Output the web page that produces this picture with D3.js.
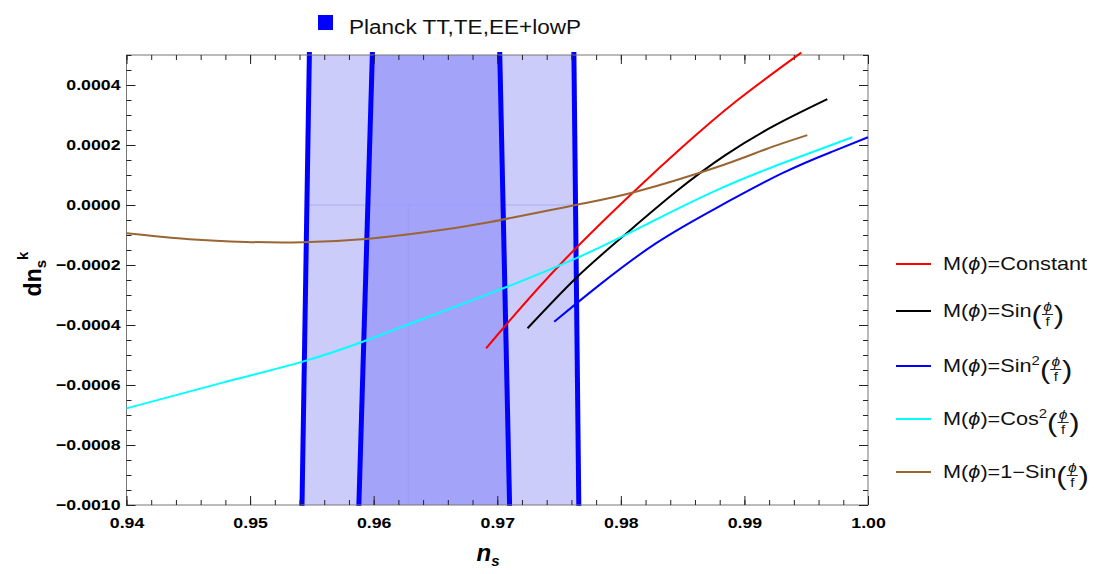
<!DOCTYPE html>
<html>
<head>
<meta charset="utf-8">
<script src="https://cdn.jsdelivr.net/npm/d3@7"></script>
<style>
  body { margin: 0; background: #fff; }
  text { font-family: "Liberation Sans", Arial, Helvetica, sans-serif; }
</style>
</head>
<body>
<script>
// Tick labels
const xTicks = [0.94, 0.95, 0.96, 0.97, 0.98, 0.99, 1.00];
const xTickLabels = ['0.94', '0.95', '0.96', '0.97', '0.98', '0.99', '1.00'];
const yTicks = [-0.0010, -0.0008, -0.0006, -0.0004, -0.0002, 0.0000, 0.0002, 0.0004];
const yTickLabels = ['\u22120.0010', '\u22120.0008', '\u22120.0006', '\u22120.0004', '\u22120.0002', '0.0000', '0.0002', '0.0004'];

// Planck TT,TE,EE+lowP band edges: [ns at dn=-0.0010, ns at dn=0.0005]
const planckDn = [-0.0010, 0.0005];
const planckOuterLeft = [0.9542, 0.9548];
const planckInnerLeft = [0.9588, 0.9599];
const planckInnerRight = [0.9710, 0.9702];
const planckOuterRight = [0.9766, 0.9762];

// Model curves (ns, dns/dlnk)
const constNs = [0.9691, 0.9707, 0.9753, 0.9812, 0.9850, 0.9893, 0.9946];
const constDn = [-0.000478, -0.000400, -0.000189, 0.000050, 0.000194, 0.000345, 0.000508];
const sinNs = [0.97245, 0.97636, 0.98013, 0.98445, 0.98849, 0.99253, 0.99671];
const sinDn = [-0.000411, -0.000244, -0.000106, 0.000044, 0.000167, 0.000267, 0.000353];
const sin2Ns = [0.97461, 0.97825, 0.98283, 0.98768, 0.99307, 0.99711, 1.0000];
const sin2Dn = [-0.000389, -0.000267, -0.000128, -0.000011, 0.000106, 0.000178, 0.000226];
const cos2Ns = [0.9400, 0.94779, 0.95426, 0.95911, 0.96396, 0.96922, 0.97636, 0.98229, 0.98768, 0.99307, 0.99873];
const cos2Dn = [-0.000678, -0.000592, -0.000522, -0.000456, -0.000380, -0.000298, -0.000178, -0.000060, 0.000048, 0.000139, 0.000226];
const oneSinNs = [0.9400, 0.94509, 0.94968, 0.95426, 0.95938, 0.96396, 0.96922, 0.97636, 0.98121, 0.98768, 0.99173, 0.99509];
const oneSinDn = [-0.000094, -0.000114, -0.000123, -0.000124, -0.000113, -0.000092, -0.000058, 0.000000, 0.000044, 0.000125, 0.000186, 0.000233];

const series = [
    { ns: constNs, dn: constDn, color: '#ff0000', fn: 'Constant', sup: null, frac: false },
    { ns: sinNs, dn: sinDn, color: '#000000', fn: 'Sin', sup: null, frac: true },
    { ns: sin2Ns, dn: sin2Dn, color: '#0000ff', fn: 'Sin', sup: '2', frac: true },
    { ns: cos2Ns, dn: cos2Dn, color: '#00ffff', fn: 'Cos', sup: '2', frac: true },
    { ns: oneSinNs, dn: oneSinDn, color: '#996633', fn: '1\u2212Sin', sup: null, frac: true }
];

const width = 1096;
const height = 574;
const plot = { left: 126.5, right: 868, top: 55, bottom: 505 };

const svg = d3.select('body').append('svg')
    .attr('width', width)
    .attr('height', height);

const x = d3.scaleLinear().domain([0.94, 1.00]).range([plot.left, plot.right]);
const y = d3.scaleLinear().domain([-0.0010, 0.0005]).range([plot.bottom, plot.top]);

// stretch text horizontally (source picture is wider than tall)
function stretch(sel, k) {
    sel.each(function () {
        const w = this.getComputedTextLength();
        d3.select(this).attr('textLength', w * k).attr('lengthAdjust', 'spacingAndGlyphs');
    });
}

// Planck band
function edge(arr) {
    return arr.map((v, i) => [x(v), y(planckDn[i])]);
}
const ol = edge(planckOuterLeft), il = edge(planckInnerLeft), ir = edge(planckInnerRight), or = edge(planckOuterRight);
svg.append('polygon')
    .attr('points', [ol[0], ol[1], or[1], or[0]].map(p => p.join(',')).join(' '))
    .attr('fill', '#ccccfb');
svg.append('polygon')
    .attr('points', [il[0], il[1], ir[1], ir[0]].map(p => p.join(',')).join(' '))
    .attr('fill', '#a3a3fa');
// faint mesh seams
svg.append('line')
    .attr('x1', x(0.9545)).attr('x2', x(0.9764))
    .attr('y1', y(0)).attr('y2', y(0))
    .attr('stroke', '#9a9af8').attr('stroke-width', 1).attr('opacity', 0.6);
svg.append('line')
    .attr('x1', x(0.9628)).attr('x2', x(0.9628))
    .attr('y1', y(0)).attr('y2', y(-0.0010))
    .attr('stroke', '#9a9af8').attr('stroke-width', 1).attr('opacity', 0.6);
[ol, il, ir, or].forEach(e => {
    svg.append('line')
        .attr('x1', e[0][0]).attr('y1', e[0][1] + 1)
        .attr('x2', e[1][0]).attr('y2', e[1][1] - 3)
        .attr('stroke', '#0000ff')
        .attr('stroke-width', 5);
});

// Frame
svg.append('rect')
    .attr('x', plot.left).attr('y', plot.top)
    .attr('width', plot.right - plot.left).attr('height', plot.bottom - plot.top)
    .attr('fill', 'none')
    .attr('stroke', '#777')
    .attr('stroke-width', 1);

const font = '"Liberation Sans", Arial, sans-serif';

// Bottom axis (labels) and minor ticks
const xAxis = svg.append('g')
    .attr('transform', `translate(0,${plot.bottom})`)
    .call(d3.axisBottom(x).tickValues(xTicks).tickFormat((d, i) => xTickLabels[i]).tickSizeInner(-9).tickSizeOuter(0).tickPadding(12));
xAxis.select('.domain').remove();
xAxis.selectAll('text').attr('font-family', font).attr('font-weight', 'bold').attr('font-size', 15).attr('fill', '#000');
stretch(xAxis.selectAll('text'), 1.18);
svg.append('g')
    .attr('transform', `translate(0,${plot.bottom})`)
    .call(d3.axisBottom(x).ticks(30).tickFormat('').tickSizeInner(-5).tickSizeOuter(0))
    .select('.domain').remove();
// top ticks
svg.append('g')
    .attr('transform', `translate(0,${plot.top})`)
    .call(d3.axisTop(x).tickValues(xTicks).tickFormat('').tickSizeInner(-9).tickSizeOuter(0))
    .select('.domain').remove();
svg.append('g')
    .attr('transform', `translate(0,${plot.top})`)
    .call(d3.axisTop(x).ticks(30).tickFormat('').tickSizeInner(-5).tickSizeOuter(0))
    .select('.domain').remove();

// Left axis
const yAxis = svg.append('g')
    .attr('transform', `translate(${plot.left},0)`)
    .call(d3.axisLeft(y).tickValues(yTicks).tickFormat((d, i) => yTickLabels[i]).tickSizeInner(-9).tickSizeOuter(0).tickPadding(6));
yAxis.select('.domain').remove();
yAxis.selectAll('text').attr('font-family', font).attr('font-weight', 'bold').attr('font-size', 15).attr('fill', '#000');
stretch(yAxis.selectAll('text'), 1.18);
svg.append('g')
    .attr('transform', `translate(${plot.left},0)`)
    .call(d3.axisLeft(y).ticks(30).tickFormat('').tickSizeInner(-5).tickSizeOuter(0))
    .select('.domain').remove();
// right ticks
svg.append('g')
    .attr('transform', `translate(${plot.right},0)`)
    .call(d3.axisRight(y).tickValues(yTicks).tickFormat('').tickSizeInner(-9).tickSizeOuter(0))
    .select('.domain').remove();
svg.append('g')
    .attr('transform', `translate(${plot.right},0)`)
    .call(d3.axisRight(y).ticks(30).tickFormat('').tickSizeInner(-5).tickSizeOuter(0))
    .select('.domain').remove();
svg.selectAll('.tick line').attr('stroke', '#222');

// Curves
const line = d3.line()
    .x(d => x(d[0]))
    .y(d => y(d[1]))
    .curve(d3.curveNatural);
series.forEach(s => {
    svg.append('path')
        .datum(s.ns.map((v, i) => [v, s.dn[i]]))
        .attr('d', line)
        .attr('fill', 'none')
        .attr('stroke', s.color)
        .attr('stroke-width', 2);
});

// Axis titles
const xt = svg.append('text')
    .attr('x', 488).attr('y', 561)
    .attr('text-anchor', 'middle')
    .attr('font-weight', 'bold').attr('font-style', 'italic')
    .attr('font-size', 24);
xt.append('tspan').text('n');
xt.append('tspan').attr('font-size', 15).attr('dy', 5).text('s');

const yt = svg.append('text')
    .attr('transform', 'translate(41,274) rotate(-90)')
    .attr('text-anchor', 'middle')
    .attr('font-weight', 'bold')
    .attr('font-size', 23);
yt.append('tspan').text('dn');
yt.append('tspan').attr('font-size', 15).attr('dy', 5).text('s');
yt.append('tspan').attr('font-size', 15).attr('dy', -18).text('k');

// Top legend
svg.append('rect')
    .attr('x', 318).attr('y', 15)
    .attr('width', 15).attr('height', 15)
    .attr('fill', '#0000ff');
const lt = svg.append('text')
    .attr('x', 349).attr('y', 34)
    .attr('font-size', 20)
    .attr('fill', '#111')
    .text('Planck TT,TE,EE+lowP');
lt.attr('textLength', 232).attr('lengthAdjust', 'spacingAndGlyphs');

// Right legend
const legendY = [264, 311, 366, 419, 472];
const legendK = 1.24;
series.forEach((s, i) => {
    const g = svg.append('g').attr('transform', `translate(896,${legendY[i]})`);
    g.append('line')
        .attr('x1', 0).attr('x2', 35)
        .attr('stroke', s.color).attr('stroke-width', 2);
    const tg = g.append('g').attr('transform', `translate(47,0) scale(${legendK},1)`);
    const t = tg.append('text').attr('y', 6).attr('font-size', 17.5).attr('fill', '#111');
    t.append('tspan').text('M(');
    t.append('tspan').attr('font-style', 'italic').text('\u03D5');
    t.append('tspan').text(')=' + s.fn);
    let w = t.node().getComputedTextLength();
    if (s.sup) {
        const sp = tg.append('text').attr('x', w).attr('y', -1)
            .attr('font-size', 12).attr('fill', '#111').text(s.sup);
        w += sp.node().getComputedTextLength();
    }
    if (s.frac) {
        const lp = tg.append('text').attr('x', w).attr('y', 13)
            .attr('font-size', 25).attr('fill', '#111').text('(');
        w += lp.node().getComputedTextLength();
        tg.append('text').attr('x', w + 4.5).attr('y', 0)
            .attr('text-anchor', 'middle').attr('font-size', 12.5).attr('font-style', 'italic')
            .attr('fill', '#111').text('\u03D5');
        tg.append('line')
            .attr('x1', w).attr('x2', w + 9)
            .attr('y1', 3.5).attr('y2', 3.5)
            .attr('stroke', '#111').attr('stroke-width', 0.8);
        tg.append('text').attr('x', w + 4.5).attr('y', 15)
            .attr('text-anchor', 'middle').attr('font-size', 12)
            .attr('fill', '#111').text('f');
        w += 9.5;
        tg.append('text').attr('x', w).attr('y', 13)
            .attr('font-size', 25).attr('fill', '#111').text(')');
    }
});
</script>
</body>
</html>
